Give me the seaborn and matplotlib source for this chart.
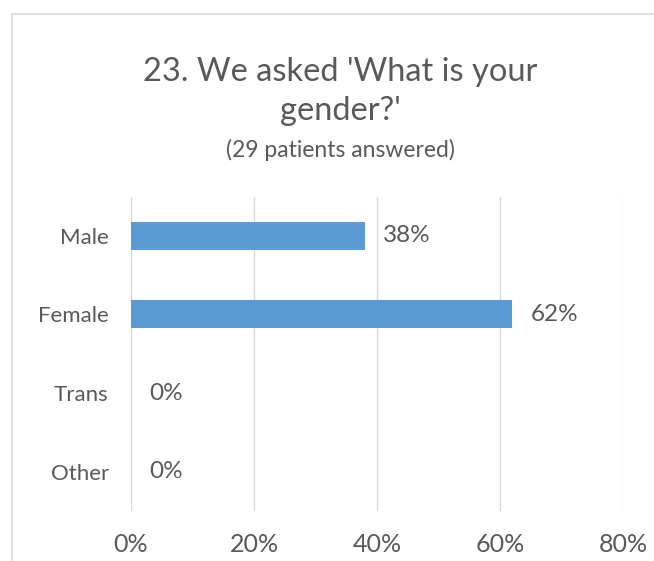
import matplotlib
matplotlib.use("Agg")
import matplotlib.pyplot as plt
import seaborn as sns
import pandas as pd
from matplotlib.lines import Line2D
from matplotlib.ticker import FuncFormatter

categories = ["Male", "Female", "Trans", "Other"]
values = [0.38, 0.62, 0.0, 0.0]
value_labels = ["38%", "62%", "0%", "0%"]
xticks = [0.0, 0.2, 0.4, 0.6, 0.8]

title_line1 = "23. We asked 'What is your"
title_line2 = "gender?'"
subtitle = "(29 patients answered)"

sns.set_theme(style="white")
plt.rcParams['font.family'] = ['Lato', 'DejaVu Sans']
TXT = "#595959"
GRID = "#D9D9D9"

df = pd.DataFrame({"category": categories, "value": values})

fig = plt.figure(figsize=(6.54, 5.61), dpi=100)
ax = fig.add_axes([0.2003, 0.0891, 0.9526 - 0.2003, 0.6497 - 0.0891])

sns.barplot(data=df, x="value", y="category", order=categories, color="#5B9BD5",
            width=0.355, orient="h", ax=ax, saturation=1, linewidth=0)

ax.set_xlim(0, 0.8)
ax.set_xticks(xticks)
ax.xaxis.set_major_formatter(FuncFormatter(lambda v, p: f"{v*100:.0f}%"))
ax.grid(axis="x", color=GRID, linewidth=1.0)
ax.set_axisbelow(True)
for s in ax.spines.values():
    s.set_visible(False)
ax.set_xlabel("")
ax.set_ylabel("")
ax.tick_params(axis="x", length=0, pad=16, labelsize=18, labelcolor=TXT)
ax.tick_params(axis="y", length=0, pad=16, labelsize=16, labelcolor=TXT)

for i, (v, lab) in enumerate(zip(values, value_labels)):
    ax.annotate(lab, xy=(v, i), xytext=(18, 0), textcoords="offset pixels",
                ha="left", va="center", fontsize=17.5, color=TXT)

cx = 340 / 654
fig.text(cx, 1 - 72 / 561, title_line1, ha="center", va="center",
         fontsize=23.5, color=TXT)
fig.text(cx, 1 - 111 / 561, title_line2, ha="center", va="center",
         fontsize=23.5, color=TXT)
fig.text(cx, 1 - 150 / 561, subtitle, ha="center", va="center",
         fontsize=16.5, color=TXT)

fig.add_artist(Line2D([12 / 654, 1], [1 - 14 / 561, 1 - 14 / 561], transform=fig.transFigure,
                      color=GRID, linewidth=1.2))
fig.add_artist(Line2D([12 / 654, 12 / 654], [0, 1 - 14 / 561], transform=fig.transFigure,
                      color=GRID, linewidth=1.2))

fig.savefig("out.png", dpi=100)
